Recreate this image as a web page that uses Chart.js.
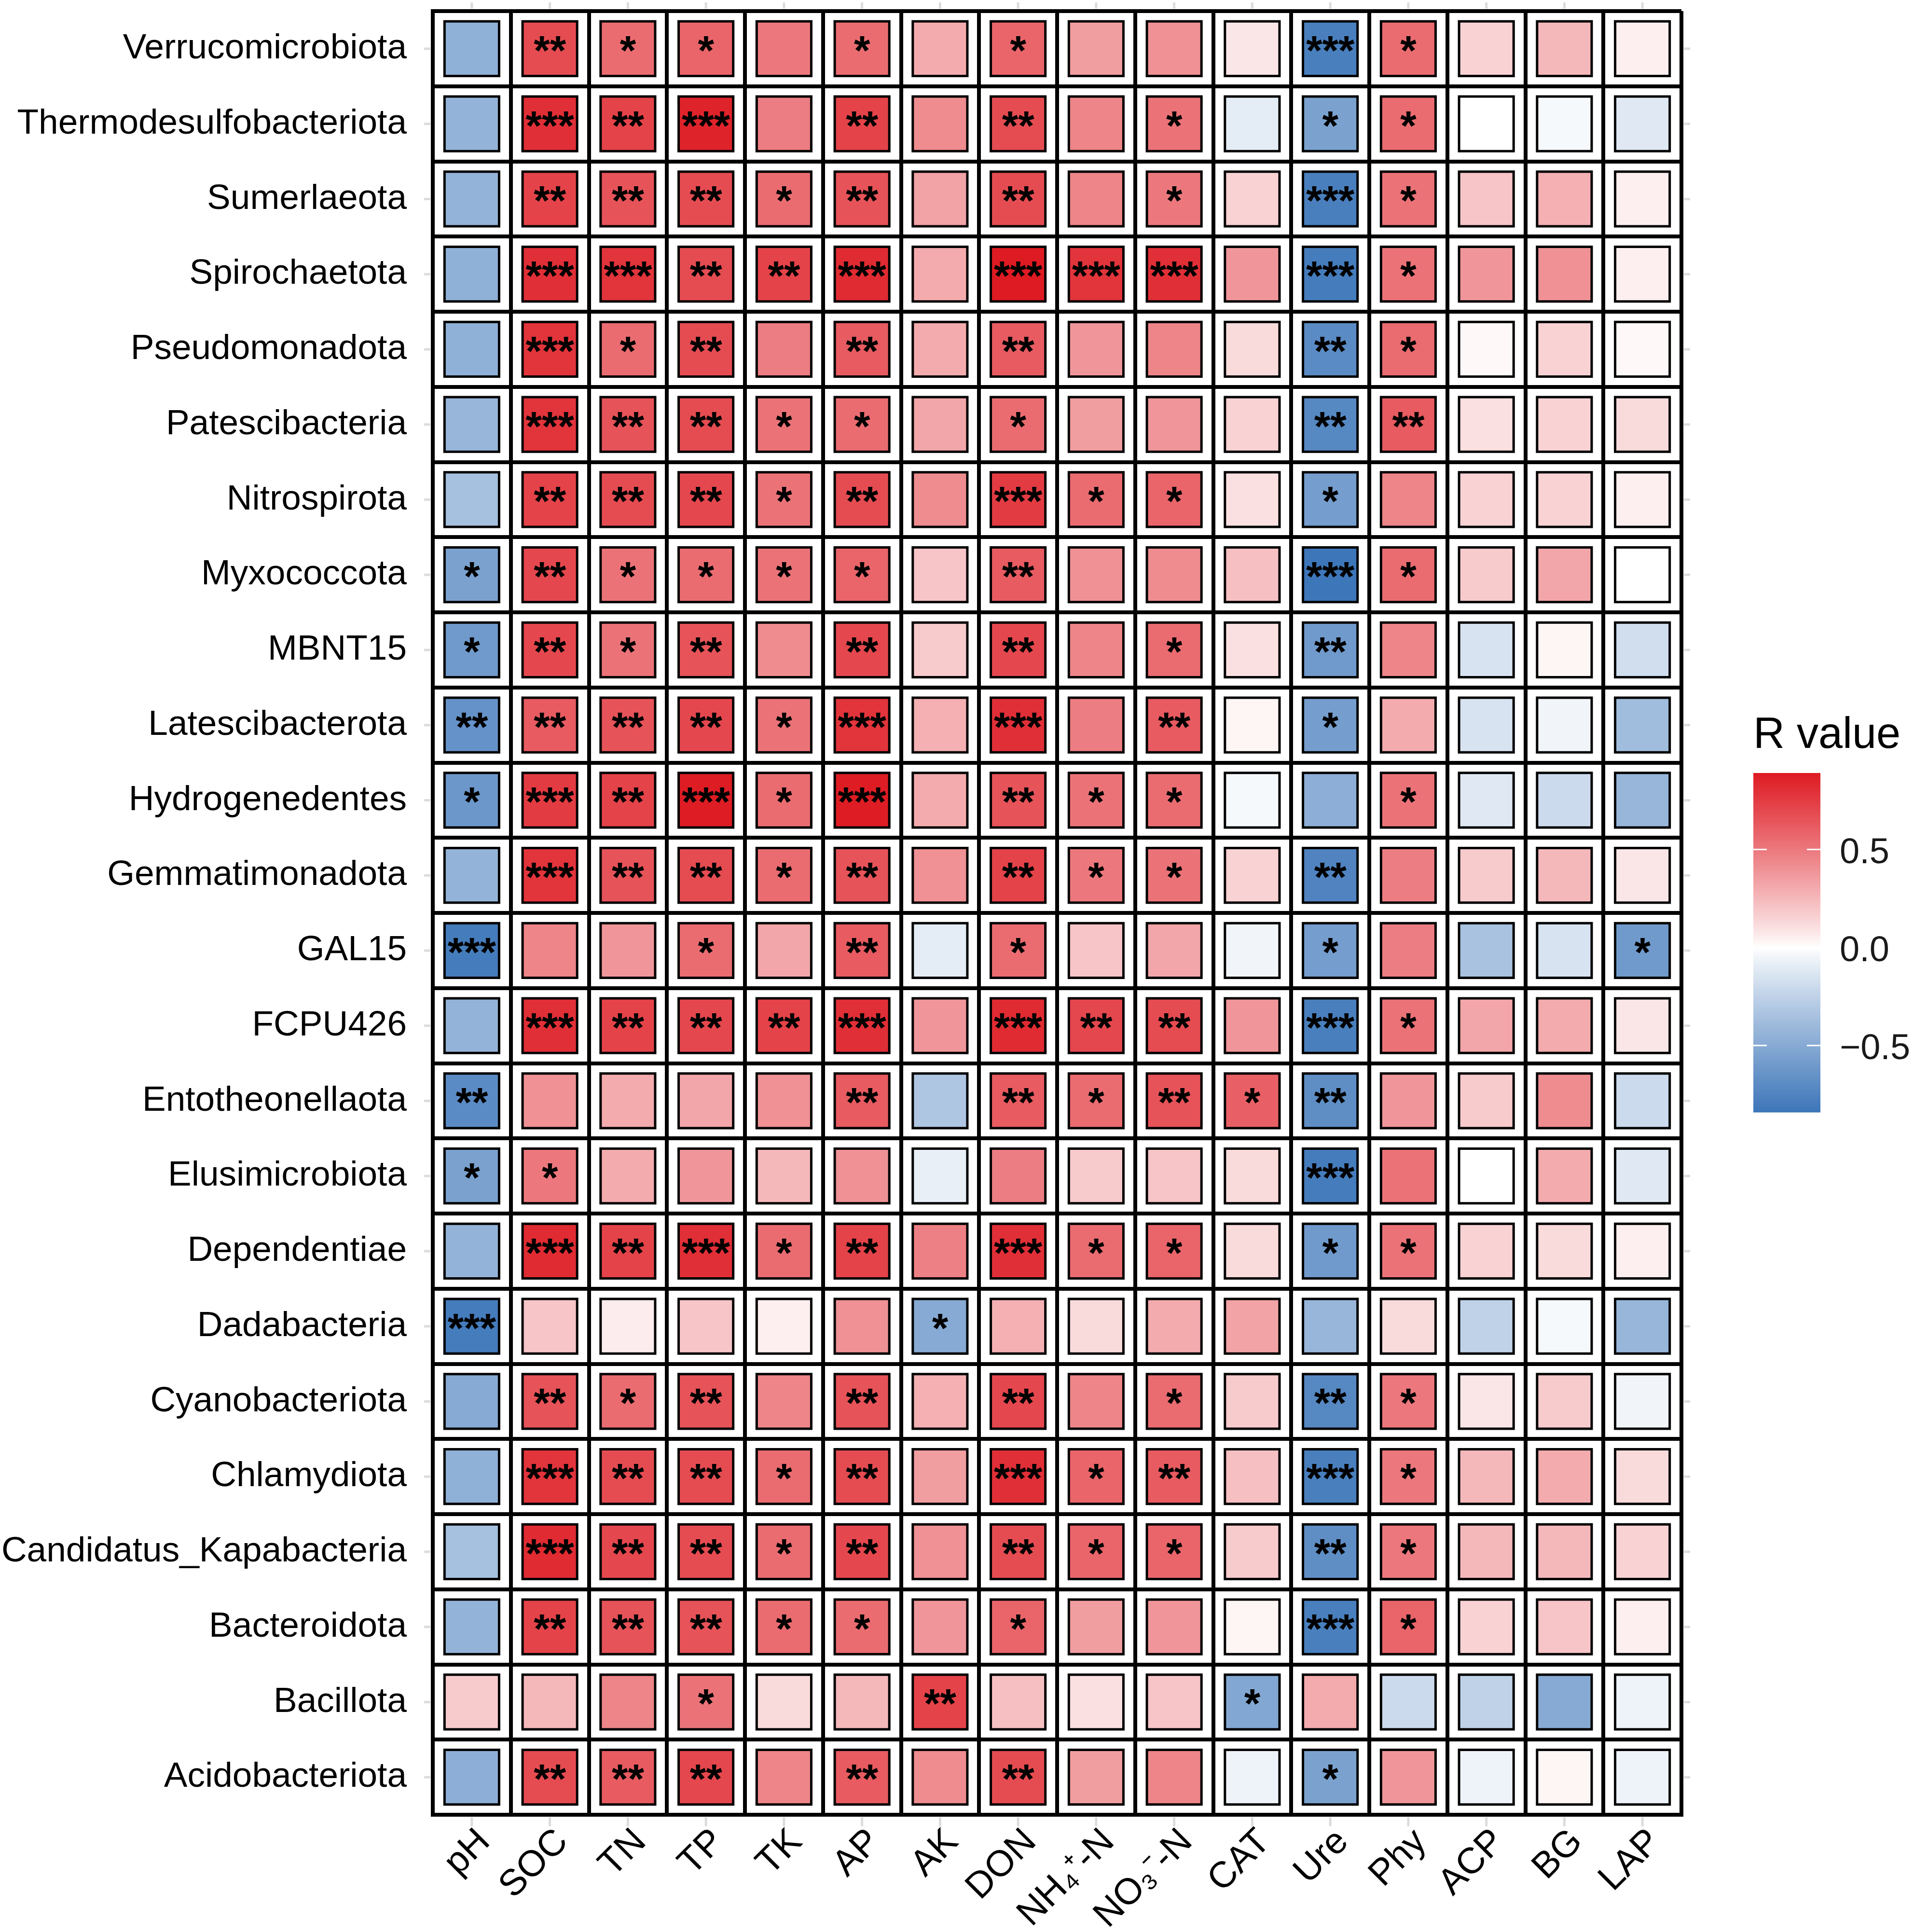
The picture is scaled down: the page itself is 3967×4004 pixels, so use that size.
<!DOCTYPE html>
<html>
<head>
<meta charset="utf-8">
<script src="https://cdn.jsdelivr.net/npm/chart.js@4.4.1/dist/chart.umd.min.js"></script>
<style>
  html, body { margin:0; padding:0; background:#fff; }
  #wrap { width:3967px; height:4004px; }
</style>
</head>
<body>
<div id="wrap"><canvas id="heat" width="3967" height="4004"></canvas></div>
<script>
const phyla = ["Verrucomicrobiota","Thermodesulfobacteriota","Sumerlaeota","Spirochaetota","Pseudomonadota",
  "Patescibacteria","Nitrospirota","Myxococcota","MBNT15","Latescibacterota","Hydrogenedentes","Gemmatimonadota",
  "GAL15","FCPU426","Entotheonellaota","Elusimicrobiota","Dependentiae","Dadabacteria","Cyanobacteriota",
  "Chlamydiota","Candidatus_Kapabacteria","Bacteroidota","Bacillota","Acidobacteriota"];

const factors = ["pH","SOC","TN","TP","TK","AP","AK","DON","NH₄⁺-N","NO₃⁻-N","CAT","Ure","Phy","ACP","BG","LAP"];

// R value per phylum (rows) and factor (columns, same order as factors)
const rValues = [
  [-0.46,0.68,0.55,0.58,0.50,0.55,0.30,0.58,0.35,0.40,0.08,-0.78,0.55,0.15,0.25,0.05],
  [-0.44,0.80,0.72,0.85,0.48,0.72,0.42,0.68,0.45,0.52,-0.10,-0.55,0.55,0.00,-0.03,-0.12],
  [-0.44,0.72,0.65,0.68,0.55,0.65,0.33,0.68,0.45,0.50,0.15,-0.78,0.52,0.20,0.28,0.05],
  [-0.46,0.80,0.78,0.68,0.72,0.82,0.30,0.89,0.78,0.80,0.38,-0.80,0.52,0.38,0.40,0.05],
  [-0.46,0.78,0.55,0.68,0.48,0.62,0.30,0.62,0.38,0.45,0.12,-0.70,0.55,0.02,0.15,0.02],
  [-0.42,0.78,0.65,0.68,0.52,0.55,0.32,0.55,0.35,0.38,0.15,-0.72,0.62,0.10,0.15,0.12],
  [-0.36,0.72,0.68,0.70,0.52,0.68,0.42,0.75,0.55,0.58,0.10,-0.58,0.45,0.15,0.15,0.05],
  [-0.55,0.70,0.52,0.55,0.52,0.58,0.20,0.62,0.40,0.42,0.22,-0.84,0.55,0.18,0.32,0.00],
  [-0.60,0.70,0.52,0.65,0.42,0.70,0.18,0.70,0.45,0.55,0.10,-0.60,0.45,-0.15,0.03,-0.18],
  [-0.65,0.62,0.65,0.70,0.52,0.78,0.28,0.80,0.48,0.62,0.03,-0.58,0.30,-0.15,-0.05,-0.38],
  [-0.62,0.75,0.72,0.88,0.55,0.88,0.30,0.65,0.52,0.55,-0.03,-0.47,0.52,-0.12,-0.20,-0.42],
  [-0.44,0.78,0.65,0.68,0.55,0.65,0.40,0.72,0.50,0.52,0.15,-0.75,0.48,0.18,0.25,0.08],
  [-0.80,0.45,0.38,0.55,0.32,0.62,-0.10,0.55,0.20,0.32,-0.05,-0.58,0.48,-0.35,-0.15,-0.60],
  [-0.44,0.80,0.72,0.70,0.72,0.80,0.38,0.82,0.70,0.68,0.38,-0.78,0.52,0.32,0.30,0.08],
  [-0.70,0.40,0.30,0.32,0.40,0.62,-0.32,0.62,0.55,0.65,0.60,-0.68,0.38,0.18,0.42,-0.20],
  [-0.55,0.50,0.30,0.38,0.25,0.40,-0.08,0.48,0.18,0.20,0.12,-0.80,0.52,0.00,0.30,-0.12],
  [-0.44,0.82,0.72,0.80,0.55,0.72,0.47,0.80,0.55,0.58,0.12,-0.60,0.52,0.15,0.12,0.05],
  [-0.80,0.20,0.06,0.20,0.05,0.40,-0.50,0.28,0.12,0.30,0.33,-0.42,0.12,-0.25,-0.03,-0.42],
  [-0.50,0.65,0.55,0.65,0.45,0.65,0.28,0.70,0.45,0.55,0.18,-0.72,0.50,0.08,0.18,-0.05],
  [-0.46,0.78,0.68,0.68,0.55,0.68,0.35,0.80,0.58,0.62,0.22,-0.78,0.50,0.25,0.30,0.12],
  [-0.36,0.82,0.70,0.68,0.55,0.70,0.40,0.68,0.58,0.58,0.18,-0.68,0.50,0.25,0.25,0.15],
  [-0.44,0.72,0.65,0.65,0.55,0.55,0.38,0.58,0.35,0.38,0.03,-0.78,0.58,0.15,0.20,0.05],
  [0.18,0.25,0.45,0.52,0.12,0.25,0.72,0.22,0.10,0.20,-0.52,0.30,-0.20,-0.25,-0.50,-0.06],
  [-0.47,0.68,0.62,0.70,0.45,0.62,0.42,0.68,0.35,0.45,-0.06,-0.55,0.38,-0.06,0.03,-0.06],
];

// number of stars per cell, one string per phylum
const sigLevels = [
  "0211010100031000","0323020201011000","0222120201031000","0332230333031000",
  "0312020200021000","0322110100022000","0222120311010000","1211110200031000",
  "1212020201020000","2222130302010000","1323130211001000","0322120211020000",
  "3001020100010001","0322230322031000","2000020212120000","1100000000030000",
  "0323120311011000","3000001000000000","0212020201021000","0322120312031000",
  "0322120211021000","0222110100031000","0001002000100000","0222020200010000",
];

const legendTicks = [0.5, 0.0, -0.5];
const legendLabels = ["0.5", "0.0", "\u22120.5"];

const HIGH = [222,26,34], MID = [255,255,255], LOW = [50,110,181];
const FONT = "'Liberation Sans', Arial, sans-serif";

const allR = rValues.flat();
const rTop = Math.max(...allR), rBot = Math.min(...allR);
const rAbs = Math.max(Math.abs(rTop), Math.abs(rBot));

// white -> red / white -> blue
function fillFor(v){
  const t = Math.pow(Math.min(1, Math.abs(v)/rAbs), 0.92);
  const end = v>=0 ? HIGH : LOW;
  const c = MID.map((m,i)=>Math.round(m+(end[i]-m)*t));
  return `rgb(${c.join(",")})`;
}

const cells = [];
phyla.forEach((p,i)=>factors.forEach((fac,j)=>{
  cells.push({x:fac, y:p, v:rValues[i][j], s:Number(sigLevels[i][j])});
}));

// light grey panel grid stubs poking out past the tile border
const stubPlugin = {
  id: "stubs",
  beforeDatasetsDraw(chart){
    const {ctx, chartArea:a, scales:{x, y}} = chart;
    ctx.save();
    ctx.strokeStyle = "#dcdcdc"; ctx.lineWidth = 5;
    ctx.beginPath();
    x.ticks.forEach((t,i)=>{
      const px = x.getPixelForTick(i);
      ctx.moveTo(px, a.top-18); ctx.lineTo(px, a.top-5);
      ctx.moveTo(px, a.bottom+5); ctx.lineTo(px, a.bottom+24);
    });
    y.ticks.forEach((t,i)=>{
      const py = y.getPixelForTick(i);
      ctx.moveTo(a.left-18, py); ctx.lineTo(a.left-5, py);
      ctx.moveTo(a.right+5, py); ctx.lineTo(a.right+18, py);
    });
    ctx.stroke();
    ctx.restore();
  }
};

const starPlugin = {
  id: "stars",
  afterDatasetsDraw(chart){
    const meta = chart.getDatasetMeta(0), ctx = chart.ctx;
    ctx.save();
    ctx.fillStyle = "#000";
    ctx.font = `bold 86px ${FONT}`;
    ctx.textAlign = "center";
    ctx.textBaseline = "alphabetic";
    meta.data.forEach((pt,k)=>{
      const n = cells[k].s;
      if(n) ctx.fillText("*".repeat(n), pt.x, pt.y+33);
    });
    ctx.restore();
  }
};

const colorbarPlugin = {
  id: "colorbar",
  afterDraw(chart){
    const ctx = chart.ctx;
    const x0 = 3634, w = 139, y0 = 1602, h = 703;
    ctx.save();
    ctx.fillStyle = "#000";
    ctx.font = `90px ${FONT}`;
    ctx.textAlign = "left";
    ctx.textBaseline = "alphabetic";
    ctx.fillText("R value", x0, 1550);
    for(let i=0;i<h;i++){
      ctx.fillStyle = fillFor(rTop - (rTop-rBot)*(i+0.5)/h);
      ctx.fillRect(x0, y0+i, w, 1.5);
    }
    ctx.font = `74px ${FONT}`;
    ctx.textBaseline = "middle";
    legendTicks.forEach((t,k)=>{
      const y = y0 + (rTop-t)/(rTop-rBot)*h;
      ctx.strokeStyle = "#fff"; ctx.lineWidth = 3;
      ctx.beginPath();
      ctx.moveTo(x0, y); ctx.lineTo(x0+28, y);
      ctx.moveTo(x0+w-28, y); ctx.lineTo(x0+w, y);
      ctx.stroke();
      ctx.fillStyle = "#1a1a1a";
      ctx.fillText(legendLabels[k], 3813, y+8);
    });
    ctx.restore();
  }
};

function noPad(s){ s.paddingTop = 0; s.paddingBottom = 0; s.paddingLeft = 0; s.paddingRight = 0; }

window.addEventListener("DOMContentLoaded", ()=>{
  new Chart(document.getElementById("heat"), {
    type: "scatter",
    data: { datasets: [{
      data: cells,
      pointStyle: "rect",
      pointRadius: 80, pointHoverRadius: 80,
      pointBorderColor: "#000", pointBorderWidth: 5,
      pointBackgroundColor: (c)=> c.raw ? fillFor(c.raw.v) : "#fff",
      clip: false,
    }]},
    options: {
      responsive: false, animation: false, events: [], devicePixelRatio: 1,
      layout: { autoPadding: false, padding: { top: 23, right: 482, bottom: 0, left: 0 } },
      plugins: { legend: { display: false }, tooltip: { enabled: false } },
      scales: {
        x: { type: "category", labels: factors, offset: true, position: "bottom",
          grid: { offset: true, color: "#000", lineWidth: 8, drawTicks: false },
          border: { display: true, color: "#000", width: 8 },
          ticks: { autoSkip: false, minRotation: 45, maxRotation: 45, padding: 12, labelOffset: 26,
            color: "#000", font: { family: FONT, size: 76 } },
          afterFit: (s)=>{ s.height = 243; noPad(s); }
        },
        y: { type: "category", labels: phyla, offset: true, position: "left",
          grid: { offset: true, color: "#000", lineWidth: 8, drawTicks: false },
          border: { display: true, color: "#000", width: 8 },
          ticks: { autoSkip: false, padding: 54, color: "#000", font: { family: FONT, size: 73 } },
          afterFit: (s)=>{ s.width = 897; noPad(s); }
        }
      }
    },
    plugins: [stubPlugin, starPlugin, colorbarPlugin]
  });
});
</script>
</body>
</html>
